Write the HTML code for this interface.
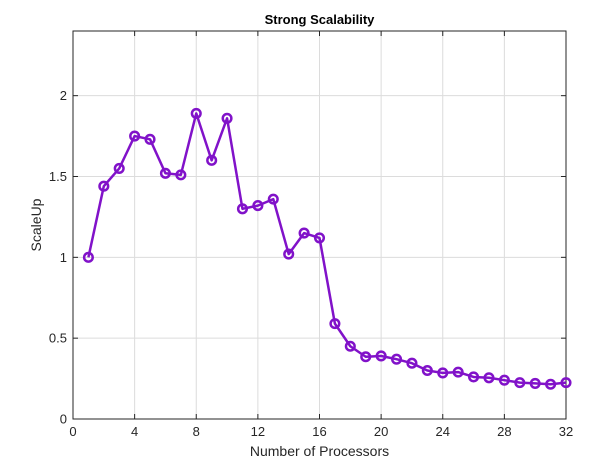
<!DOCTYPE html>
<html><head><meta charset="utf-8"><style>
body{margin:0;background:#fff;}
svg{display:block;font-family:"Liberation Sans",sans-serif;}
</style></head><body>
<svg id="chart" width="608" height="468">
<rect width="608" height="468" fill="#fff"/>
</svg>
<script>
const categories=[1,2,3,4,5,6,7,8,9,10,11,12,13,14,15,16,17,18,19,20,21,22,23,24,25,26,27,28,29,30,31,32];
const scaleUp=[1.0,1.44,1.55,1.75,1.73,1.52,1.51,1.89,1.60,1.86,1.30,1.32,1.36,1.02,1.15,1.12,0.59,0.45,0.385,0.39,0.37,0.345,0.30,0.285,0.29,0.26,0.255,0.24,0.225,0.22,0.215,0.225];
const xTicks=[0,4,8,12,16,20,24,28,32];
const yTicks=[0,0.5,1,1.5,2];
const yTickLabels=["0","0.5","1","1.5","2"];
const L=73,R=566,T=31,B=419,XMAX=32,YMAX=2.4;
const sx=v=>L+(v/XMAX)*(R-L);
const sy=v=>B-(v/YMAX)*(B-T);
const svg=document.getElementById('chart');
const NS='http://www.w3.org/2000/svg';
function mk(tag,attrs,parent){const e=document.createElementNS(NS,tag);for(const k in attrs)e.setAttribute(k,attrs[k]);(parent||svg).appendChild(e);return e;}
const grid=mk('g',{});


xTicks.forEach(t=>{mk('line',{x1:sx(t),x2:sx(t),y1:T,y2:B,stroke:'#dcdcdc','stroke-width':1},grid);});
yTicks.forEach(t=>{mk('line',{x1:L,x2:R,y1:sy(t),y2:sy(t),stroke:'#dcdcdc','stroke-width':1},grid);});
const box=mk('rect',{x:L,y:T,width:R-L,height:B-T,fill:'none',stroke:'#262626','stroke-width':1});


xTicks.forEach(t=>{
 mk('line',{x1:sx(t),x2:sx(t),y1:B,y2:B-5,stroke:'#262626'});
 mk('line',{x1:sx(t),x2:sx(t),y1:T,y2:T+5,stroke:'#262626'});
 const tx=mk('text',{x:sx(t),y:B+17,'text-anchor':'middle','font-size':13,fill:'#262626'});
 tx.textContent=t;
 
 
});
yTicks.forEach((t,i)=>{
 mk('line',{x1:L,x2:L+5,y1:sy(t),y2:sy(t),stroke:'#262626'});
 mk('line',{x1:R,x2:R-5,y1:sy(t),y2:sy(t),stroke:'#262626'});
 const tx=mk('text',{x:L-6,y:sy(t)+4.5,'text-anchor':'end','font-size':13,fill:'#262626'});
 tx.textContent=yTickLabels[i];
 
 
});
const line=mk('polyline',{points:categories.map((c,i)=>sx(c)+','+sy(scaleUp[i])).join(' '),fill:'none',stroke:'#8112c9','stroke-width':2.5,'stroke-linejoin':'round'});


categories.forEach((c,i)=>{
 const p=mk('circle',{cx:sx(c),cy:sy(scaleUp[i]),r:4.3,fill:'none',stroke:'#8112c9','stroke-width':2.5});
 
 
});
const title=mk('text',{x:(L+R)/2,y:24,'text-anchor':'middle','font-size':13,'font-weight':'bold',fill:'#000'});
title.textContent='Strong Scalability';


const xl=mk('text',{x:(L+R)/2,y:456,'text-anchor':'middle','font-size':14,fill:'#262626'});
xl.textContent='Number of Processors';


const yl=mk('text',{x:0,y:0,'text-anchor':'middle','font-size':14,fill:'#262626',transform:'translate(41,'+((T+B)/2)+') rotate(-90)'});
yl.textContent='ScaleUp';


</script>
</body></html>
